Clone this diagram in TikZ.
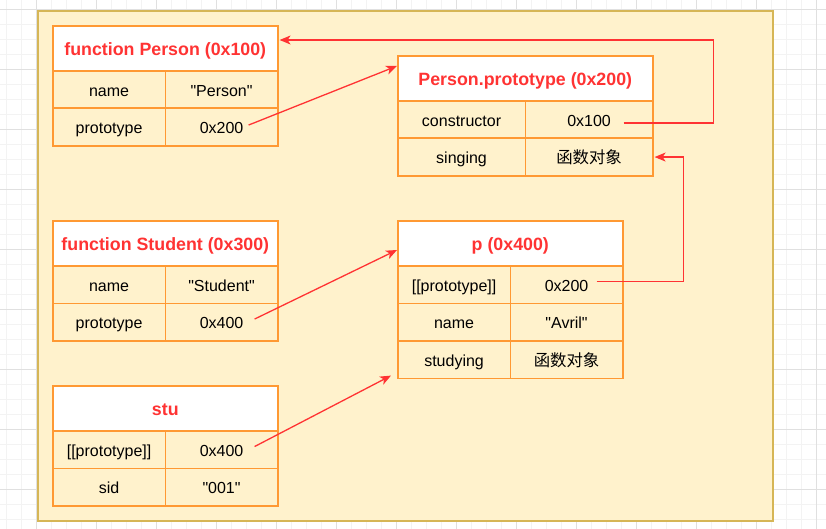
\documentclass[tikz,border=0pt]{standalone}
\usepackage{fontspec}
\setmainfont{Liberation Sans}
\newfontfamily\lsans{Liberation Sans}
\newfontfamily\cjk{Noto Sans CJK SC}
\usetikzlibrary{arrows.meta,calc}
\definecolor{boxfill}{HTML}{FFF2CC}
\definecolor{boxline}{HTML}{D6B656}
\definecolor{cellline}{HTML}{FF9933}
\definecolor{redtxt}{HTML}{FF3333}
\definecolor{gridminor}{HTML}{F3F3F3}
\definecolor{gridmajor}{HTML}{E0E0E0}
\begin{document}
\begin{tikzpicture}[x=1pt,y=-1pt,
  cell/.style={draw=cellline,line width=1.6pt,minimum height=37.5pt,minimum width=112.5pt,
    inner sep=0pt,anchor=north west,text height=13pt,text depth=0pt,
    font=\lsans\fontsize{16}{18}\selectfont},
  wcell/.style={cell,minimum width=127.5pt},
  head/.style={cell,fill=white,minimum height=45pt,minimum width=225pt,text=redtxt,
    text height=15pt,text depth=0pt,font=\lsans\fontsize{17.8}{20}\selectfont\bfseries},
  link/.style={draw=redtxt,line width=1.3pt,-{Stealth[length=11pt,width=9pt,inset=3pt]}},
  frame/.style={draw=boxline,fill=boxfill,line width=2pt,anchor=north west,inner sep=0pt}]
\useasboundingbox (0,0) rectangle (826,529);
% background grid
\foreach \x in {6.7,21.7,...,826} \draw[gridminor,line width=1pt] (\x,0) -- (\x,529);
\foreach \y in {9.3,24.3,...,529} \draw[gridminor,line width=1pt] (0,\y) -- (826,\y);
\foreach \x in {36.7,96.7,...,826} \draw[gridmajor,line width=1pt] (\x,0) -- (\x,529);
\foreach \y in {9.3,69.3,...,529} \draw[gridmajor,line width=1pt] (0,\y) -- (826,\y);
% container
\node[frame,minimum width=735pt,minimum height=510pt] (box) at (37,10) {};
% function Person
\node[head] (ph) at (52,25) {function Person (0x100)};
\node[cell] (pk1) at (52,70) {name};
\node[cell] (pv1) at (164.5,70) {"Person"};
\node[cell] (pk2) at (52,107.5) {prototype};
\node[cell] (pv2) at (164.5,107.5) {0x200};
% Person.prototype
\node[head,minimum width=255pt] (rh) at (397,55) {Person.prototype (0x200)};
\node[wcell] (rk1) at (397,100) {constructor};
\node[wcell] (rv1) at (524.5,100) {0x100};
\node[wcell] (rk2) at (397,137.5) {singing};
\node[wcell] (rv2) at (524.5,137.5) {\cjk\fontsize{16.4}{18}\selectfont 函数对象};
% function Student
\node[head] (sh) at (52,220) {function Student (0x300)};
\node[cell] (sk1) at (52,265) {name};
\node[cell] (sv1) at (164.5,265) {"Student"};
\node[cell] (sk2) at (52,302.5) {prototype};
\node[cell] (sv2) at (164.5,302.5) {0x400};
% p
\node[head] (qh) at (397,220) {p (0x400)};
\node[cell] (qk1) at (397,265) {[[prototype]]};
\node[cell] (qv1) at (509.5,265) {0x200};
\node[cell] (qk2) at (397,302.5) {name};
\node[cell] (qv2) at (509.5,302.5) {"Avril"};
\node[cell] (qk3) at (397,340) {studying};
\node[cell] (qv3) at (509.5,340) {\cjk\fontsize{16.4}{18}\selectfont 函数对象};
% stu
\node[head] (uh) at (52,385) {stu};
\node[cell] (uk1) at (52,430) {[[prototype]]};
\node[cell] (uv1) at (164.5,430) {0x400};
\node[cell] (uk2) at (52,467.5) {sid};
\node[cell] (uv2) at (164.5,467.5) {"001"};
% connector ends
\coordinate (a1s) at ($(pv2.east)+(-30,-2)$);
\coordinate (a1t) at ($(rh.north west)+(0,11)$);
\coordinate (a2s) at ($(rv1.east)+(-30,3.5)$);
\coordinate (a2t) at ($(ph.north east)+(1,15)$);
\coordinate (a3s) at ($(qv1.east)+(-27,-3)$);
\coordinate (a3t) at ($(rv2.east)+(1,0)$);
\coordinate (a4s) at ($(sv2.east)+(-24,-3)$);
\coordinate (a4t) at ($(qh.north west)+(0,30)$);
\coordinate (a5s) at ($(uv1.east)+(-24,-3)$);
\coordinate (a5t) at ($(qk3.south west)+(-6,-3.5)$);
% connectors
\draw[link] (a1s) -- (a1t);
\draw[link] (a2s) -- ++(90,0) |- (a2t);
\draw[link] (a3s) -- ++(87,0) |- (a3t);
\draw[link] (a4s) -- (a4t);
\draw[link] (a5s) -- (a5t);
\end{tikzpicture}
\end{document}
